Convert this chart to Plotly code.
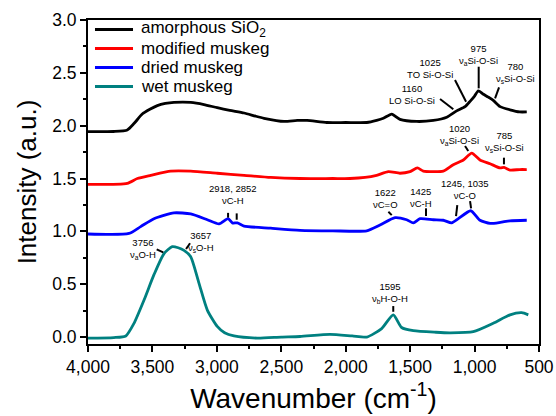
import plotly.graph_objects as go

# ---------------- data ----------------
sio2_wn = [4000, 3800, 3695, 3643, 3579, 3520, 3462, 3400, 3333, 3203, 3100, 2997, 2900, 2789,
           2700, 2634, 2479, 2376, 2300, 2147, 2000, 1837, 1760, 1708, 1643, 1579, 1449, 1320,
           1216, 1139, 1074, 1035, 1000, 971, 935, 893, 855, 802, 725, 650, 595]
sio2_int = [1.943, 1.945, 1.96, 2.02, 2.11, 2.155, 2.19, 2.21, 2.22, 2.22, 2.20, 2.17, 2.145, 2.12,
            2.09, 2.07, 2.04, 2.05, 2.05, 2.03, 2.03, 2.03, 2.05, 2.07, 2.11, 2.06, 2.04, 2.05,
            2.08, 2.14, 2.18, 2.23, 2.28, 2.33, 2.30, 2.27, 2.24, 2.18, 2.15, 2.13, 2.13]

mod_wn = [4000, 3695, 3617, 3513, 3358, 3203, 2997, 2789, 2582, 2355, 2100, 1967, 1850, 1760,
          1669, 1579, 1501, 1444, 1398, 1320, 1243, 1165, 1087, 1022, 958, 880, 802, 771, 725,
          650, 595]
mod_int = [1.445, 1.455, 1.50, 1.53, 1.57, 1.57, 1.55, 1.53, 1.51, 1.50, 1.50, 1.50, 1.51, 1.53,
           1.565, 1.55, 1.565, 1.60, 1.57, 1.565, 1.57, 1.63, 1.675, 1.74, 1.675, 1.64, 1.60,
           1.605, 1.58, 1.585, 1.585]

dry_wn = [4000, 3682, 3591, 3488, 3333, 3203, 3074, 2983, 2913, 2880, 2841, 2789, 2582, 2355,
          2100, 1837, 1734, 1617, 1527, 1475, 1423, 1320, 1243, 1178, 1126, 1030, 958, 880, 800,
          725, 595]
dry_int = [0.975, 0.98, 1.045, 1.12, 1.175, 1.165, 1.11, 1.07, 1.12, 1.08, 1.08, 1.05, 1.03, 1.01,
           1.005, 1.005, 1.06, 1.13, 1.11, 1.08, 1.12, 1.11, 1.105, 1.08, 1.12, 1.195, 1.105,
           1.075, 1.085, 1.10, 1.105]

wet_wn = [4000, 3800, 3707, 3643, 3565, 3488, 3410, 3346, 3300, 3255, 3203, 3139, 3074, 2997,
          2940, 2867, 2686, 2500, 2355, 2122, 1950, 1837, 1721, 1631, 1566, 1475, 1300, 1191,
          1010, 855, 725, 634, 583]
wet_int = [-0.01, -0.005, 0.01, 0.13, 0.35, 0.59, 0.79, 0.855, 0.845, 0.82, 0.76, 0.51, 0.255,
           0.10, 0.04, 0.01, -0.01, 0.0, 0.005, 0.025, 0.01, 0.0, 0.08, 0.21, 0.09, 0.06, 0.045,
           0.04, 0.05, 0.13, 0.21, 0.23, 0.21]

series_names = ["amorphous SiO<sub>2</sub>", "modified muskeg", "dried muskeg", "wet muskeg"]
series_colors = ["#000000", "#FF0000", "#0000FF", "#008080"]

x_ticks = [4000, 3500, 3000, 2500, 2000, 1500, 1000, 500]
y_ticks = [0.0, 0.5, 1.0, 1.5, 2.0, 2.5, 3.0]

# band labels: text, label centre (wn, intensity), marker segments
band_labels = [
    ("3756<br>ν<sub>a</sub>O-H", 3573, 0.836, [(3467, 0.830, 3416, 0.801)]),
    ("3657<br>ν<sub>s</sub>O-H", 3125, 0.899, [(3208, 0.887, 3239, 0.833)]),
    ("2918, 2852<br>νC-H", 2875, 1.350, [(2913, 1.175, 2913, 1.130), (2846, 1.170, 2846, 1.110)]),
    ("1622<br>νC=O", 1695, 1.315, [(1669, 1.186, 1643, 1.154)]),
    ("1425<br>νC-H", 1418, 1.325, [(1377, 1.218, 1377, 1.145)]),
    ("1245, 1035<br>νC-O", 1074, 1.399, [(1134, 1.249, 1144, 1.145), (1035, 1.287, 1027, 1.218)]),
    ("1595<br>ν<sub>b</sub>H-O-H", 1654, 0.418, [(1631, 0.293, 1631, 0.239)]),
    ("1020<br>ν<sub>a</sub>Si-O-Si", 1119, 1.909, [(1074, 1.808, 1049, 1.760)]),
    ("785<br>ν<sub>s</sub>Si-O-Si", 764, 1.841, [(772, 1.697, 772, 1.634)]),
    ("1160<br>LO Si-O-Si", 1485, 2.295, [(1268, 2.252, 1165, 2.155)]),
    ("1025<br>TO Si-O-Si", 1346, 2.543, [(1152, 2.432, 1066, 2.227)]),
    ("975<br>ν<sub>a</sub>Si-O-Si", 973, 2.673, [(968, 2.558, 968, 2.353)]),
    ("780<br>ν<sub>s</sub>Si-O-Si", 686, 2.500, [(810, 2.363, 841, 2.259)]),
]

FONT = "Liberation Sans, Arial, sans-serif"

fig = go.Figure()
for wn, inten, name, col in zip([sio2_wn, mod_wn, dry_wn, wet_wn],
                                [sio2_int, mod_int, dry_int, wet_int],
                                series_names, series_colors):
    fig.add_trace(go.Scatter(x=wn, y=inten, name=name, mode="lines",
                             line=dict(color=col, width=2.8, shape="spline", smoothing=0.6),
                             showlegend=False))

annotations = []
shapes = []
for text, xw, yv, segs in band_labels:
    annotations.append(dict(x=xw, y=yv, xref="x", yref="y", text=text, showarrow=False,
                            font=dict(family=FONT, size=9.5, color="black"),
                            xanchor="center", yanchor="middle", align="center"))
    for (x0, y0, x1, y1) in segs:
        shapes.append(dict(type="line", xref="x", yref="y", x0=x0, y0=y0, x1=x1, y1=y1,
                           line=dict(color="black", width=2)))

# legend drawn manually (compact row spacing as in the reference)
leg_y = [0.9707, 0.912, 0.8534, 0.7948]
for name, col, ly in zip(series_names, series_colors, leg_y):
    shapes.append(dict(type="line", xref="paper", yref="paper", x0=0.0155, x1=0.0998,
                       y0=ly, y1=ly, line=dict(color=col, width=2.8)))
    annotations.append(dict(x=0.113, y=ly, xref="paper", yref="paper", text=name,
                            showarrow=False, xanchor="left", yanchor="middle",
                            font=dict(family=FONT, size=17, color="black")))

fig.update_layout(
    width=556, height=416,
    margin=dict(l=88, r=17, t=20, b=72, autoexpand=False),
    paper_bgcolor="white", plot_bgcolor="white",
    font=dict(family=FONT, color="black"),
    annotations=annotations, shapes=shapes,
    showlegend=False,
)
fig.update_xaxes(
    range=[4000, 500], tickvals=x_ticks, tickformat=",", automargin=False,
    showgrid=False, zeroline=False,
    showline=True, linecolor="black", linewidth=1.8, mirror=True,
    ticks="outside", ticklen=6, tickwidth=1.8, tickcolor="black",
    tickfont=dict(family=FONT, size=17.5, color="black"),
    minor=dict(ticks="outside", ticklen=3.5, tickwidth=1.5, tickcolor="black", dtick=250, tick0=500),
    title=dict(text="Wavenumber (cm<sup>-1</sup>)", font=dict(family=FONT, size=28, color="black"),
               standoff=12),
)
fig.update_yaxes(
    range=[-0.066, 3.0], tickvals=y_ticks, tickformat=".1f", automargin=False,
    showgrid=False, zeroline=False,
    showline=True, linecolor="black", linewidth=1.8, mirror=True,
    ticks="outside", ticklen=6, tickwidth=1.8, tickcolor="black",
    tickfont=dict(family=FONT, size=17.5, color="black"),
    minor=dict(ticks="outside", ticklen=3.5, tickwidth=1.5, tickcolor="black", dtick=0.25, tick0=0),
    title=dict(text="Intensity (a.u.)", font=dict(family=FONT, size=26, color="black"),
               standoff=8),
)

fig.write_html("out.html", config={"displayModeBar": False},
               post_script="document.body.style.margin='0';document.body.style.padding='0';")
